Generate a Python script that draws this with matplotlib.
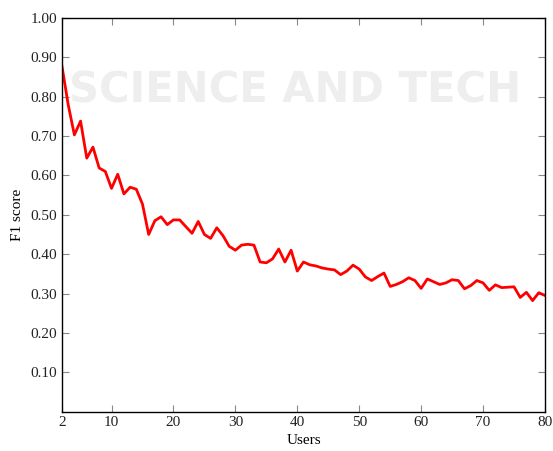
import matplotlib
matplotlib.use("Agg")
import matplotlib.pyplot as plt

# F1 score per number of users
users = list(range(2, 81))
f1_score = [
    0.877, 0.780, 0.703, 0.738, 0.644, 0.672, 0.619, 0.610, 0.567, 0.603,
    0.553, 0.570, 0.565, 0.527, 0.450, 0.485, 0.495, 0.475, 0.487, 0.487,
    0.470, 0.453, 0.483, 0.450, 0.440, 0.467, 0.447, 0.420, 0.410, 0.423,
    0.425, 0.423, 0.380, 0.378, 0.388, 0.413, 0.380, 0.410, 0.357, 0.380,
    0.373, 0.370, 0.365, 0.362, 0.360, 0.348, 0.357, 0.372, 0.362, 0.342,
    0.333, 0.343, 0.352, 0.318, 0.323, 0.330, 0.340, 0.333, 0.313, 0.337,
    0.330, 0.323, 0.327, 0.335, 0.333, 0.312, 0.320, 0.333, 0.327, 0.308,
    0.322, 0.315, 0.316, 0.317, 0.290, 0.303, 0.282, 0.302, 0.295,
]
x_ticks = [2, 10, 20, 30, 40, 50, 60, 70, 80]
y_ticks = [0.1, 0.2, 0.3, 0.4, 0.5, 0.6, 0.7, 0.8, 0.9, 1.0]

plt.rcParams["font.family"] = ["Liberation Serif", "DejaVu Serif"]
plt.rcParams["font.size"] = 11

fig = plt.figure(figsize=(5.53, 4.51), dpi=100)

# faint publisher watermark behind the chart
fig.text(0.125, 0.80, "SCIENCE AND TECH", fontsize=30, color="#eeeeee",
         family="DejaVu Sans", fontweight="bold", va="center", zorder=0)

ax = fig.add_axes([0.1121, 0.0874, 0.8734, 0.8727])
ax.patch.set_alpha(0)
ax.plot(users, f1_score, color="red", linewidth=2.0)

ax.set_xlim(2, 80)
ax.set_ylim(0, 1.0)
ax.set_xticks(x_ticks)
ax.set_yticks(y_ticks)
ax.set_yticklabels([f"{v:.2f}" for v in y_ticks])
ax.tick_params(direction="in", top=True, right=True, length=5, color="#888888",
               labelcolor="#222222")
for s in ax.spines.values():
    s.set_linewidth(1.0)

ax.set_xlabel("Users", labelpad=3)
ax.set_ylabel("F1 score", labelpad=5)

fig.savefig("out.png", dpi=100)
